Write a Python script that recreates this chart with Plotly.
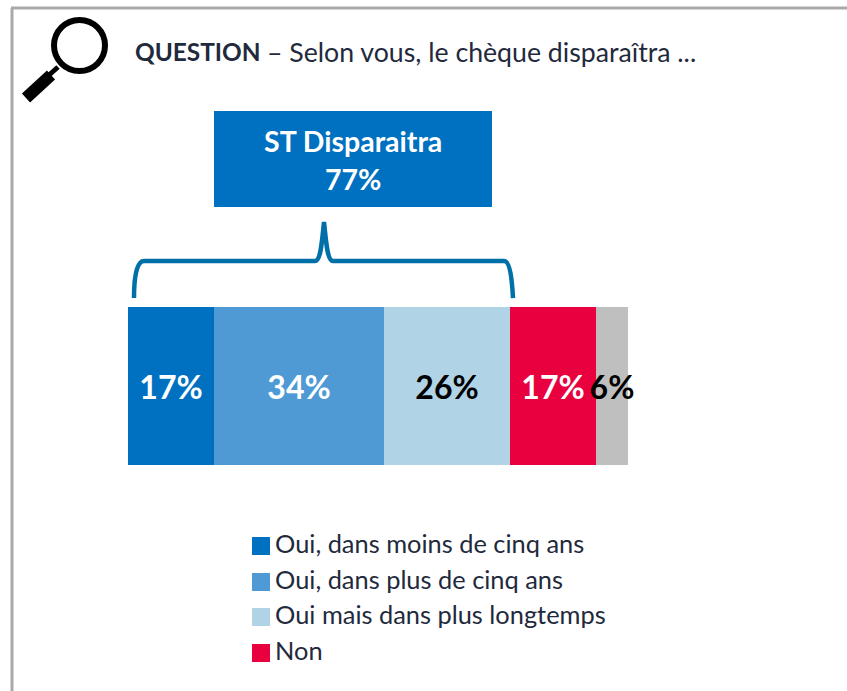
import plotly.graph_objects as go

W, H = 847, 691
FONT = "Lato"
INK = "#1F2A3C"

# ---- data ----
series_names = ["Oui, dans moins de cinq ans", "Oui, dans plus de cinq ans",
                "Oui mais dans plus longtemps", "Non", "NSP"]
bar_values = [17.2, 34, 25.2, 17.2, 6.4]
bar_labels = ["17%", "34%", "26%", "17%", "6%"]
bar_colors = ["#0070C0", "#4F9AD4", "#B1D3E6", "#E8003F", "#BFBFBF"]
label_colors = ["white", "white", "black", "white", "black"]
legend_names = series_names[:4]
legend_colors = bar_colors[:4]
legend_rows = [545, 581, 616, 652]
title_bold = "QUESTION"
title_rest = "– Selon vous, le chèque disparaîtra ..."
box_title = "ST Disparaitra"
box_value = "77%"


def px(x):
    return x / W


def py(y):
    return 1 - y / H


def path(*items):
    out = []
    for it in items:
        if isinstance(it, str):
            out.append(it)
        else:
            out.append(f"{px(it[0]):.5f},{py(it[1]):.5f}")
    return " ".join(out)


fig = go.Figure()
for name, v, lab, col, lc in zip(series_names, bar_values, bar_labels, bar_colors, label_colors):
    fig.add_trace(go.Bar(
        x=[v], y=[0], name=name, orientation="h", width=1,
        marker=dict(color=col, line=dict(width=0)),
        text=[lab], textposition="inside", insidetextanchor="middle",
        textangle=0, constraintext="none", cliponaxis=False,
        textfont=dict(family=FONT, size=32, color=lc, weight="bold"),
        showlegend=False,
    ))

shapes = [
    # frame
    dict(type="line", xref="paper", yref="paper", x0=px(12), x1=px(12), y0=py(8), y1=py(691),
         line=dict(color="#A9A9A9", width=3)),
    dict(type="line", xref="paper", yref="paper", x0=px(11), x1=px(847), y0=py(8), y1=py(8),
         line=dict(color="#A9A9A9", width=3)),
    # box
    dict(type="rect", xref="paper", yref="paper", x0=px(214), x1=px(492), y0=py(111), y1=py(207),
         fillcolor="#0070C0", line=dict(width=0)),
    # brace
    dict(type="path", xref="paper", yref="paper",
         path=path("M", (134, 298), "C", (134, 280), (136, 261), (144, 261), "L", (315, 261),
                   "C", (321, 261), (322, 240), (324, 222), "C", (326, 240), (327, 261), (333, 261),
                   "L", (504, 261), "C", (510, 261), (512, 280), (513, 298)),
         line=dict(color="#0070A8", width=4.5), fillcolor="rgba(0,0,0,0)"),
    # magnifier lens
    dict(type="circle", xref="paper", yref="paper", x0=px(54), x1=px(105), y0=py(20), y1=py(71),
         line=dict(color="black", width=6), fillcolor="rgba(0,0,0,0)"),
    # magnifier handle
    dict(type="line", xref="paper", yref="paper", x0=px(58), x1=px(48), y0=py(67), y1=py(76),
         line=dict(color="black", width=5)),
    dict(type="line", xref="paper", yref="paper", x0=px(51), x1=px(26), y0=py(75), y1=py(98),
         line=dict(color="black", width=12)),
]

annotations = [
    dict(x=px(135), y=py(52), text=f"<b>{title_bold}</b>", xanchor="left", yanchor="middle",
         font=dict(family=FONT, size=24.4, color=INK)),
    dict(x=px(267), y=py(52), text=title_rest, xanchor="left", yanchor="middle",
         font=dict(family=FONT, size=26.7, color=INK)),
    dict(x=px(353), y=py(141), text=f"<b>{box_title}</b>", xanchor="center", yanchor="middle",
         font=dict(family=FONT, size=28.5, color="white")),
    dict(x=px(353), y=py(179), text=f"<b>{box_value}</b>", xanchor="center", yanchor="middle",
         font=dict(family=FONT, size=28.5, color="white")),
]

for name, col, row in zip(legend_names, legend_colors, legend_rows):
    shapes.append(dict(type="rect", xref="paper", yref="paper", x0=px(252), x1=px(270),
                       y0=py(row - 8), y1=py(row + 10), fillcolor=col, line=dict(width=0)))
    annotations.append(dict(x=px(275), y=py(row - 2), text=name, xanchor="left", yanchor="middle",
                            font=dict(family=FONT, size=25.4, color=INK)))

for a in annotations:
    a.update(xref="paper", yref="paper", showarrow=False, borderpad=0, borderwidth=0)

fig.update_layout(
    width=W, height=H, autosize=False,
    margin=dict(l=0, r=0, t=0, b=0, pad=0),
    barmode="stack",
    plot_bgcolor="white", paper_bgcolor="white",
    xaxis=dict(range=[-25.6, 143.8], visible=False, fixedrange=True),
    yaxis=dict(range=[-1.930, 2.443], visible=False, fixedrange=True),
    showlegend=False,
    shapes=shapes, annotations=annotations,
)

fig.write_html("out.html", config={"displayModeBar": False},
               post_script="document.body.style.margin='0';document.body.style.overflow='hidden';")
